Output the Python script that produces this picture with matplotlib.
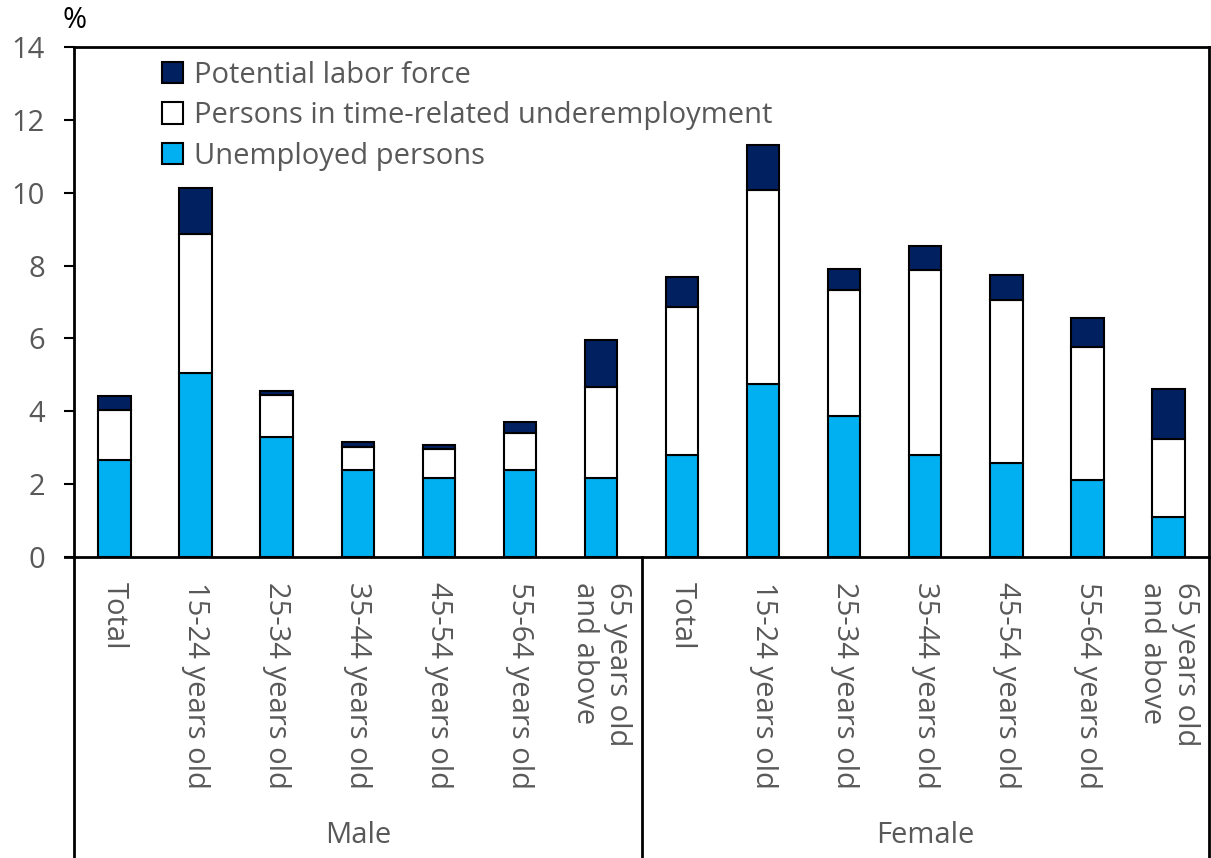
import matplotlib
matplotlib.use("Agg")
from matplotlib import pyplot as plt
import numpy as np

plt.rcParams['font.family'] = ['Open Sans', 'DejaVu Sans']

# data (%)
groups = ["Male", "Female"]
ages = ["Total", "15-24 years old", "25-34 years old", "35-44 years old",
        "45-54 years old", "55-64 years old", "65 years old\nand above"]

unemployed = [2.66, 5.05, 3.29, 2.39, 2.17, 2.39, 2.17,
              2.80, 4.75, 3.87, 2.80, 2.58, 2.11, 1.10]
underemployed = [1.37, 3.82, 1.16, 0.63, 0.79, 1.01, 2.50,
                 4.06, 5.32, 3.46, 5.08, 4.47, 3.65, 2.14]
potential = [0.39, 1.26, 0.11, 0.14, 0.11, 0.31, 1.29,
             0.83, 1.24, 0.58, 0.66, 0.69, 0.80, 1.37]

c_unemp = '#00B0F0'
c_pot = '#002060'
txt = '#595959'
fs = 21

fig = plt.figure(figsize=(12.11, 8.58), dpi=100)
ax = fig.add_axes([74 / 1211, (858 - 557) / 858, 1135 / 1211, 510 / 858])

x = np.arange(len(unemployed))
w = 0.40
u = np.array(unemployed)
t = np.array(underemployed)
p = np.array(potential)

b1 = ax.bar(x, u, w, color=c_unemp, edgecolor='black', linewidth=1.5,
            label='Unemployed persons')
b2 = ax.bar(x, t, w, bottom=u, color='white', edgecolor='black', linewidth=1.5,
            label='Persons in time-related underemployment')
b3 = ax.bar(x, p, w, bottom=u + t, color=c_pot, edgecolor='black', linewidth=1.5,
            label='Potential labor force')

ax.set_xlim(-0.5, len(x) - 0.5)
ax.set_ylim(0, 14)
ax.set_yticks(range(0, 15, 2))
ax.tick_params(axis='y', direction='out', length=7, width=1.5, labelsize=fs,
               labelcolor=txt, pad=14)
ax.tick_params(axis='x', length=0)
ax.set_xticks(x)
ax.set_xticklabels([])
for s in ax.spines.values():
    s.set_linewidth(2)

# category labels below the axis
trans = ax.get_xaxis_transform()
for i in x:
    ax.text(i, -0.05, ages[i % 7], rotation=270, ha='center', va='top',
            multialignment='left', fontsize=fs, color=txt, transform=trans)

for gi, g in enumerate(groups):
    ax.text(gi * 7 + 3, -0.546, g, ha='center', va='center', fontsize=fs,
            color=txt, transform=trans)

# frame lines for the group area
for xv in [-0.5, 6.5, 13.5]:
    ax.plot([xv, xv], [0, -0.6], color='black', linewidth=2,
            transform=trans, clip_on=False)
ax.plot([-0.61, -0.5], [0, 0], color='black', linewidth=2,
        transform=trans, clip_on=False)

fig.text(75 / 1211, 1 - 20 / 858, '%', ha='center', va='center', fontsize=fs,
         color='black')

leg = ax.legend(handles=[b3, b2, b1], loc='upper left',
                bbox_to_anchor=(0.054, 1.025), frameon=False, fontsize=fs,
                handlelength=0.75, handleheight=0.75, handletextpad=0.35,
                labelspacing=0.4, labelcolor=txt)

fig.savefig('out.png', dpi=100)
